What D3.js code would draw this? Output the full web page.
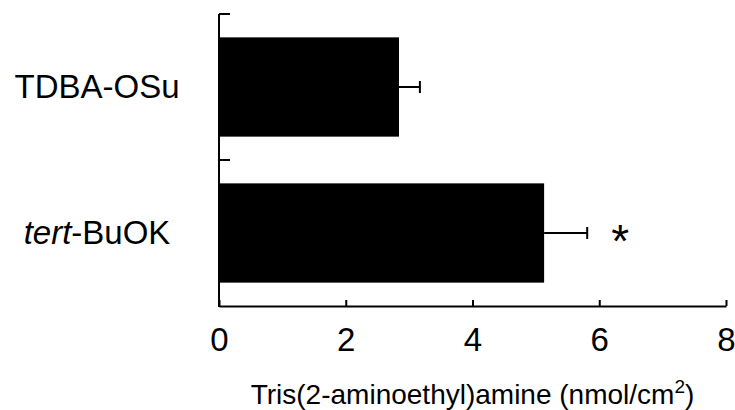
<!DOCTYPE html>
<html>
<head>
<meta charset="utf-8">
<script src="https://cdn.jsdelivr.net/npm/d3@7"></script>
<style>
    body { margin: 0; background: #fff; }
    text { font-family: Arial, "Liberation Sans", sans-serif; fill: #000; }
</style>
</head>
<body>
<div id="chart"></div>
<script>
var categories = ["TDBA-OSu", "tert-BuOK"];
var means = [2.84, 5.13];
var errors = [0.33, 0.68];
var marks = ["", "*"];
var xTicks = [0, 2, 4, 6, 8];

var chartdata = categories.map(function (c, i) {
    return {name: c, mean: means[i], err: errors[i], mark: marks[i]};
});

var margin = {top: 14, right: 9, bottom: 104, left: 219},
        width = 735 - margin.left - margin.right,
        height = 410 - margin.top - margin.bottom;

var svg = d3.select("#chart")
        .append("svg")
        .attr("width", 735)
        .attr("height", 410);

var canvas = svg.append("g")
        .attr("transform", "translate(" + margin.left + "," + margin.top + ")");

var x = d3.scaleLinear()
        .domain([0, 8])
        .range([0, width]);

var y = d3.scaleBand()
        .domain(categories)
        .range([0, height])
        .paddingInner(0.32)
        .paddingOuter(0.16);

// bars
canvas.selectAll("rect.bar")
        .data(chartdata)
        .enter()
        .append("rect")
        .attr("class", "bar")
        .attr("x", x(0))
        .attr("y", function (d) { return y(d.name); })
        .attr("width", function (d) { return x(d.mean) - x(0); })
        .attr("height", y.bandwidth())
        .attr("fill", "#000");

// error bars
var eb = canvas.selectAll("g.err")
        .data(chartdata)
        .enter()
        .append("g")
        .attr("class", "err");

eb.append("line")
        .attr("x1", function (d) { return x(d.mean); })
        .attr("x2", function (d) { return x(d.mean + d.err); })
        .attr("y1", function (d) { return y(d.name) + y.bandwidth() / 2; })
        .attr("y2", function (d) { return y(d.name) + y.bandwidth() / 2; })
        .attr("stroke", "#000")
        .attr("stroke-width", 2);

eb.append("line")
        .attr("x1", function (d) { return x(d.mean + d.err); })
        .attr("x2", function (d) { return x(d.mean + d.err); })
        .attr("y1", function (d) { return y(d.name) + y.bandwidth() / 2 - 6; })
        .attr("y2", function (d) { return y(d.name) + y.bandwidth() / 2 + 6; })
        .attr("stroke", "#000")
        .attr("stroke-width", 2);

// significance star
canvas.selectAll("text.mark")
        .data(chartdata)
        .enter()
        .append("text")
        .attr("class", "mark")
        .attr("x", function (d) { return x(d.mean + d.err) + 33; })
        .attr("y", function (d) { return y(d.name) + y.bandwidth() / 2 + 24; })
        .attr("text-anchor", "middle")
        .style("font-size", "46px")
        .text(function (d) { return d.mark; });

// x axis
var xAxis = canvas.append("g")
        .attr("transform", "translate(0," + height + ")")
        .call(d3.axisBottom(x).tickValues(xTicks).tickSize(-6).tickPadding(0).tickSizeOuter(0));
xAxis.select(".domain").attr("stroke-width", 2);
xAxis.selectAll(".tick line").attr("stroke-width", 2);
xAxis.selectAll(".tick text")
        .attr("y", 45)
        .attr("dy", null)
        .style("font-size", "33px");

// y axis: ticks on band boundaries, pointing inward
var bounds = [0].concat(categories.map(function (c) { return y(c) + y.bandwidth() + y.step() * y.paddingInner() / 2; }));
bounds[bounds.length - 1] = height;
canvas.append("line")
        .attr("x1", 0).attr("x2", 0)
        .attr("y1", 0).attr("y2", height + 1)
        .attr("stroke", "#000")
        .attr("stroke-width", 2);
canvas.selectAll("line.ytick")
        .data(bounds.slice(0, -1))
        .enter()
        .append("line")
        .attr("class", "ytick")
        .attr("x1", 0).attr("x2", 11)
        .attr("y1", function (d) { return d; })
        .attr("y2", function (d) { return d; })
        .attr("stroke", "#000")
        .attr("stroke-width", 2);

// category labels
var labels = svg.selectAll("text.cat")
        .data(chartdata)
        .enter()
        .append("text")
        .attr("class", "cat")
        .attr("x", 97)
        .attr("y", function (d) { return margin.top + y(d.name) + y.bandwidth() / 2 + 11; })
        .attr("text-anchor", "middle")
        .style("font-size", "33px");
labels.each(function (d) {
    var t = d3.select(this);
    if (d.name.indexOf("tert-") === 0) {
        t.append("tspan").style("font-style", "italic").text("tert");
        t.append("tspan").text(d.name.slice(4));
    } else {
        t.text(d.name);
    }
});

// axis title
var title = svg.append("text")
        .attr("x", margin.left + width / 2)
        .attr("y", 404)
        .attr("text-anchor", "middle")
        .style("font-size", "28px");
title.append("tspan").text("Tris(2-aminoethyl)amine (nmol/cm");
title.append("tspan").attr("dy", -11).style("font-size", "19px").text("2");
title.append("tspan").attr("dy", 11).text(")");
</script>
</body>
</html>
